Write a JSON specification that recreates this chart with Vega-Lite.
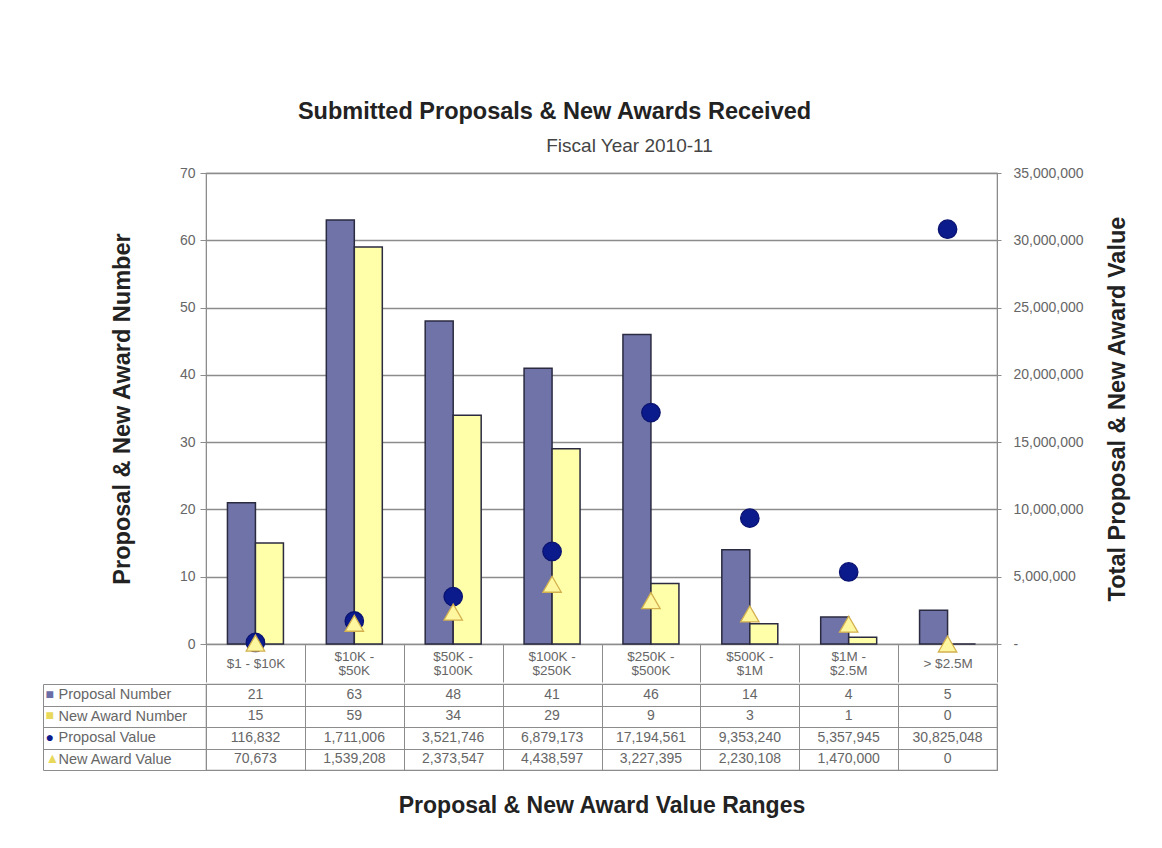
{
  "$schema": "https://vega.github.io/schema/vega-lite/v6.json",
  "background": "white",
  "padding": {"left": 41, "top": 99, "right": 10, "bottom": 10},
  "autosize": {"type": "pad"},
  "spacing": -11.5,
  "title": {
    "text": "Submitted Proposals & New Awards Received",
    "font": "Liberation Sans",
    "fontSize": 23.5,
    "fontWeight": "bold",
    "color": "#222222",
    "anchor": "middle",
    "dx": -31,
    "offset": 13
  },
  "config": {
    "font": "Liberation Sans",
    "view": {"stroke": "#8c8c8c", "strokeWidth": 1.2},
    "axis": {
      "labelFont": "Liberation Sans",
      "titleFont": "Liberation Sans",
      "labelColor": "#666666",
      "titleColor": "#222222",
      "domainColor": "#8c8c8c",
      "tickColor": "#8c8c8c",
      "gridColor": "#8c8c8c"
    }
  },
  "datasets": {
    "ranges": [
      {"range": "$1 - $10K", "Proposal Number": 21, "New Award Number": 15, "Proposal Value": 116832, "New Award Value": 70673},
      {"range": "$10K - $50K", "Proposal Number": 63, "New Award Number": 59, "Proposal Value": 1711006, "New Award Value": 1539208},
      {"range": "$50K - $100K", "Proposal Number": 48, "New Award Number": 34, "Proposal Value": 3521746, "New Award Value": 2373547},
      {"range": "$100K - $250K", "Proposal Number": 41, "New Award Number": 29, "Proposal Value": 6879173, "New Award Value": 4438597},
      {"range": "$250K - $500K", "Proposal Number": 46, "New Award Number": 9, "Proposal Value": 17194561, "New Award Value": 3227395},
      {"range": "$500K - $1M", "Proposal Number": 14, "New Award Number": 3, "Proposal Value": 9353240, "New Award Value": 2230108},
      {"range": "$1M - $2.5M", "Proposal Number": 4, "New Award Number": 1, "Proposal Value": 5357945, "New Award Value": 1470000},
      {"range": "> $2.5M", "Proposal Number": 5, "New Award Number": 0, "Proposal Value": 30825048, "New Award Value": 0}
    ]
  },
  "vconcat": [
    {
      "width": 791,
      "height": 471,
      "title": {
        "text": "Fiscal Year 2010-11",
        "fontSize": 19,
        "fontWeight": "normal",
        "color": "#444444",
        "anchor": "middle",
        "frame": "group",
        "dx": 28,
        "offset": 10
      },
      "data": {"name": "ranges"},
      "layer": [
        {
          "transform": [{"fold": ["Proposal Number", "New Award Number"], "as": ["series", "count"]}],
          "mark": {"type": "bar", "stroke": "#2a2a40", "strokeWidth": 1.5},
          "encoding": {
            "x": {
              "field": "range", "type": "nominal", "sort": null,
              "scale": {"paddingInner": 0, "paddingOuter": 0},
              "axis": {
                "orient": "bottom",
                "title": null,
                "tickBand": "extent",
                "tickSize": 38,
                "labelPadding": -19,
                "labelBaseline": "middle",
                "labelAngle": 0,
                "labelFontSize": 13.5,
                "labelExpr": "length(datum.label) > 10 ? '' : datum.label"
              }
            },
            "xOffset": {
              "field": "series", "type": "nominal",
              "sort": ["Proposal Number", "New Award Number"],
              "scale": {"paddingInner": 0, "paddingOuter": 0.766}
            },
            "y": {
              "field": "count", "type": "quantitative",
              "scale": {"domain": [0, 70]},
              "axis": {
                "title": "Proposal & New Award Number",
                "titleFontSize": 23.5,
                "titleFontWeight": "bold",
                "titlePadding": 45,
                "values": [0, 10, 20, 30, 40, 50, 60, 70],
                "grid": true,
                "gridWidth": 1.3,
                "tickSize": 6,
                "labelFontSize": 14,
                "labelPadding": 5
              }
            },
            "color": {
              "field": "series", "type": "nominal",
              "scale": {
                "domain": ["Proposal Number", "New Award Number", "Proposal Value", "New Award Value"],
                "range": ["#7073a8", "#ffffaa", "#0b1b8c", "#fff7a0"]
              },
              "legend": null
            }
          }
        },
        {
          "transform": [{"fold": ["Proposal Value", "New Award Value"], "as": ["series", "value"]}],
          "mark": {"type": "point", "filled": true, "opacity": 1, "strokeWidth": 1.3, "size": 340},
          "encoding": {
            "x": {
              "field": "range", "type": "nominal", "sort": null,
              "axis": {
                "orient": "bottom",
                "title": null,
                "ticks": false,
                "tickSize": 0,
                "domain": false,
                "grid": false,
                "labelPadding": 12,
                "labelBaseline": "middle",
                "labelAngle": 0,
                "labelFontSize": 13.5,
                "labelExpr": "length(datum.label) > 10 ? slice(datum.label, 0, indexof(datum.label, ' - ') + 2) : ''"
              }
            },
            "y": {
              "field": "value", "type": "quantitative",
              "scale": {"domain": [0, 35000000]},
              "axis": {
                "orient": "right",
                "title": "Total Proposal & New Award Value",
                "titleFontSize": 23.5,
                "titleFontWeight": "bold",
                "titleAngle": 270,
                "titleBaseline": "top",
                "titlePadding": 22,
                "values": [0, 5000000, 10000000, 15000000, 20000000, 25000000, 30000000, 35000000],
                "labelExpr": "datum.value == 0 ? '-' : format(datum.value, ',')",
                "grid": false,
                "tickSize": 4,
                "labelFontSize": 14,
                "labelPadding": 12
              }
            },
            "shape": {
              "field": "series", "type": "nominal",
              "scale": {"domain": ["Proposal Value", "New Award Value"], "range": ["circle", "triangle-up"]},
              "legend": null
            },
            "color": {
              "field": "series", "type": "nominal",
              "scale": {
                "domain": ["Proposal Number", "New Award Number", "Proposal Value", "New Award Value"],
                "range": ["#7073a8", "#ffffaa", "#0b1b8c", "#fff7a0"]
              },
              "legend": null
            },
            "stroke": {
              "field": "series", "type": "nominal",
              "scale": {"domain": ["Proposal Value", "New Award Value"], "range": ["#0a1370", "#d2b04e"]},
              "legend": null
            }
          }
        },
        {
          "mark": {"type": "point", "opacity": 0},
          "encoding": {
            "x": {
              "field": "range", "type": "nominal", "sort": null,
              "axis": {
                "orient": "bottom",
                "title": null,
                "ticks": false,
                "tickSize": 0,
                "domain": false,
                "grid": false,
                "labelPadding": 26,
                "labelBaseline": "middle",
                "labelAngle": 0,
                "labelFontSize": 13.5,
                "labelExpr": "length(datum.label) > 10 ? slice(datum.label, indexof(datum.label, ' - ') + 3) : ''"
              }
            }
          }
        }
      ],
      "resolve": {"scale": {"y": "independent"}, "axis": {"x": "independent"}}
    },
    {
      "width": 791,
      "height": 86,
      "data": {"name": "ranges"},
      "transform": [{"fold": ["Proposal Number", "New Award Number", "Proposal Value", "New Award Value"], "as": ["metric", "val"]}],
      "layer": [
        {
          "mark": {"type": "text", "fontSize": 14, "color": "#666666"},
          "encoding": {
            "x": {
              "field": "range", "type": "nominal", "sort": null,
              "scale": {"paddingInner": 0, "paddingOuter": 0},
              "axis": {
                "orient": "bottom",
                "title": "Proposal & New Award Value Ranges",
                "titleFontSize": 23,
                "titleFontWeight": "bold",
                "titlePadding": 24,
                "labels": false,
                "ticks": false,
                "domain": false,
                "grid": true,
                "tickBand": "extent"
              }
            },
            "y": {
              "field": "metric", "type": "nominal",
              "sort": ["Proposal Number", "New Award Number", "Proposal Value", "New Award Value"],
              "scale": {"paddingInner": 0, "paddingOuter": 0},
              "axis": {
                "orient": "left",
                "title": null,
                "domain": false,
                "ticks": true,
                "tickSize": 163,
                "tickBand": "extent",
                "grid": true,
                "labelAlign": "left",
                "labelBaseline": "middle",
                "labelPadding": -15,
                "labelFontSize": 14.5
              }
            },
            "text": {"field": "val", "type": "quantitative", "format": ","}
          }
        },
        {
          "mark": {"type": "text", "text": ""},
          "encoding": {
            "x": {"field": "range", "type": "nominal", "sort": null},
            "y": {
              "field": "metric", "type": "nominal",
              "sort": ["Proposal Number", "New Award Number", "Proposal Value", "New Award Value"],
              "axis": {
                "orient": "left",
                "title": null,
                "offset": 163,
                "domain": true,
                "ticks": false,
                "grid": false,
                "labelAlign": "left",
                "labelBaseline": "middle",
                "labelPadding": -2,
                "labelFontSize": 14,
                "labelExpr": "datum.value == 'Proposal Value' ? '●' : datum.value == 'New Award Value' ? '▲' : '■'",
                "labelColor": {
                  "condition": [
                    {"test": "datum.value == 'Proposal Number'", "value": "#6a6da6"},
                    {"test": "datum.value == 'Proposal Value'", "value": "#0b1b8c"}
                  ],
                  "value": "#e8d95a"
                }
              }
            }
          }
        }
      ],
      "resolve": {"axis": {"y": "independent"}}
    }
  ]
}
